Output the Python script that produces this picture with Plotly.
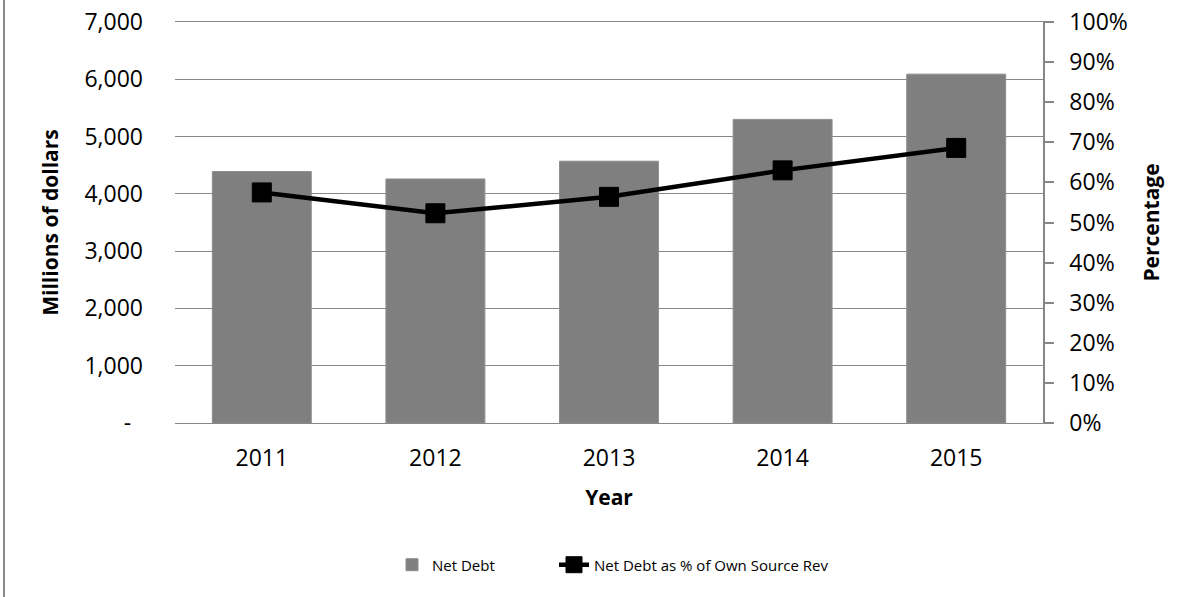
import plotly.graph_objects as go

years = ["2011", "2012", "2013", "2014", "2015"]
net_debt = [4390, 4260, 4570, 5300, 6090]
net_debt_pct = [0.575, 0.523, 0.564, 0.630, 0.686]

left_tickvals = [0, 1000, 2000, 3000, 4000, 5000, 6000, 7000]
left_ticktext = ["-\u00a0\u00a0", "1,000", "2,000", "3,000", "4,000", "5,000", "6,000", "7,000"]

GRID = "#878787"
FONT = "Open Sans, Liberation Sans, sans-serif"

fig = go.Figure()
fig.add_trace(go.Bar(
    x=years, y=net_debt, name="Net Debt",
    marker=dict(color="#7f7f7f", line=dict(color="#8f8f8f", width=1)),
    yaxis="y", legend="legend",
))
fig.add_trace(go.Scatter(
    x=years, y=net_debt_pct, name="Net Debt as % of Own Source Rev",
    mode="lines+markers",
    line=dict(color="black", width=4.5),
    marker=dict(symbol="square", size=19, color="black", line=dict(color="black", width=1)),
    yaxis="y2", legend="legend2",
))

leg_common = dict(orientation="h", y=-0.354, yanchor="middle", xanchor="left",
                  font=dict(size=15, family=FONT), itemwidth=30,
                  bgcolor="rgba(0,0,0,0)", borderwidth=0)

fig.update_layout(
    width=1201, height=597,
    margin=dict(l=175, r=158, t=22, b=174, autoexpand=False),
    paper_bgcolor="white", plot_bgcolor="white",
    font=dict(family=FONT, color="black", size=23),
    bargap=0.43,
    showlegend=True,
    legend=dict(x=(392 - 175) / 868, **leg_common),
    legend2=dict(x=(554 - 175) / 868, **leg_common),
    xaxis=dict(
        type="category", showline=True, mirror=True, linecolor=GRID, linewidth=1.3,
        showgrid=False, ticks="", ticklabelstandoff=14,
        tickfont=dict(size=23),
        title=dict(text="<b>Year</b>", font=dict(size=21), standoff=18),
    ),
    yaxis=dict(
        range=[0, 7000], tickvals=left_tickvals, ticktext=left_ticktext,
        showgrid=True, gridcolor=GRID, gridwidth=1.3, showline=False,
        zeroline=False, ticks="", ticklabelstandoff=31, ticklabeloverflow="allow",
        tickfont=dict(size=23),
        title=dict(text="<b>Millions of dollars</b>", font=dict(size=21), standoff=20),
    ),
    yaxis2=dict(
        range=[0, 1], dtick=0.1, tickformat=".0%", overlaying="y", side="right",
        showgrid=False, zeroline=False, showline=True, linecolor=GRID, linewidth=1.5,
        ticks="outside", ticklen=9, tickcolor=GRID, tickwidth=1.5,
        ticklabelstandoff=11, ticklabeloverflow="allow", tickfont=dict(size=23),
        title=dict(text="<b>Percentage</b>", font=dict(size=21), standoff=17),
    ),
    shapes=[dict(
        type="line", xref="paper", yref="paper",
        x0=(4 - 175) / 868, x1=(4 - 175) / 868,
        y0=-174 / 401, y1=(401 + 22) / 401,
        line=dict(color="#888888", width=2),
    )],
)

fig.write_html("out.html", config={"displayModeBar": False},
               post_script="document.body.style.margin='0';")
